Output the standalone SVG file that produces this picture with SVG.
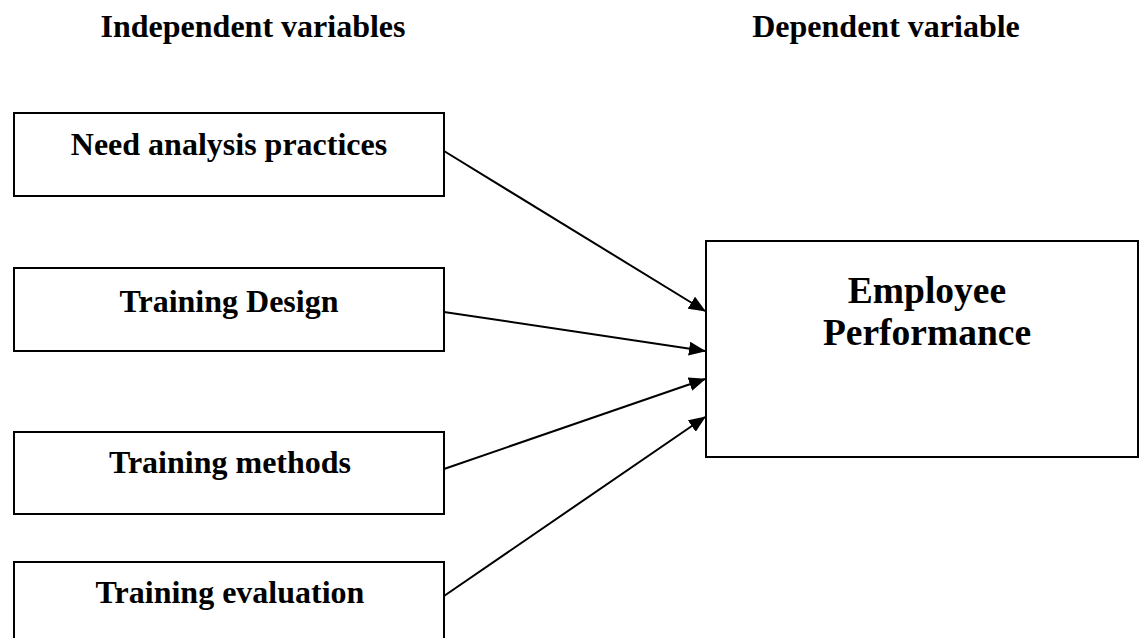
<svg xmlns="http://www.w3.org/2000/svg" width="1140" height="638" viewBox="0 0 1140 638">
<defs>
<style>
.box{fill:#fff;stroke:#000;stroke-width:2}
.t{font-family:"Liberation Serif","Times New Roman",serif;font-weight:bold;fill:#000;text-anchor:middle}
.lbl{font-size:32px}
.hd{font-size:32px}
.big{font-size:37.5px}
.c{stroke:#000;stroke-width:2;fill:none;marker-end:url(#ah)}
</style>
<marker id="ah" markerWidth="17" markerHeight="14" refX="16" refY="7" orient="auto" markerUnits="userSpaceOnUse">
<path d="M0,0 L17,7 L0,14 Z" fill="#000"/>
</marker>
</defs>
<rect width="1140" height="638" fill="#fff"/>
<text class="t hd" x="253" y="37">Independent variables</text>
<text class="t hd" x="886" y="37">Dependent variable</text>
<g id="n1"><rect class="box" x="14" y="113" width="430" height="83"/><text class="t lbl" x="229" y="155">Need analysis practices</text></g>
<g id="n2"><rect class="box" x="14" y="268" width="430" height="83"/><text class="t lbl" x="229" y="312">Training Design</text></g>
<g id="n3"><rect class="box" x="14" y="432" width="430" height="82"/><text class="t lbl" x="230" y="473">Training methods</text></g>
<g id="n4"><rect class="box" x="14" y="562" width="430" height="90"/><text class="t lbl" x="230" y="603">Training evaluation</text></g>
<g id="n5"><rect class="box" x="706" y="241" width="432" height="216"/><text class="t big" x="927" y="303">Employee</text><text class="t big" x="927" y="345">Performance</text></g>
<g id="connectors">
<line class="c" x1="444" y1="151" x2="705" y2="311"/>
<line class="c" x1="444" y1="312" x2="705" y2="351"/>
<line class="c" x1="444" y1="469" x2="705" y2="379"/>
<line class="c" x1="444" y1="596" x2="705" y2="417"/>
</g>
</svg>
